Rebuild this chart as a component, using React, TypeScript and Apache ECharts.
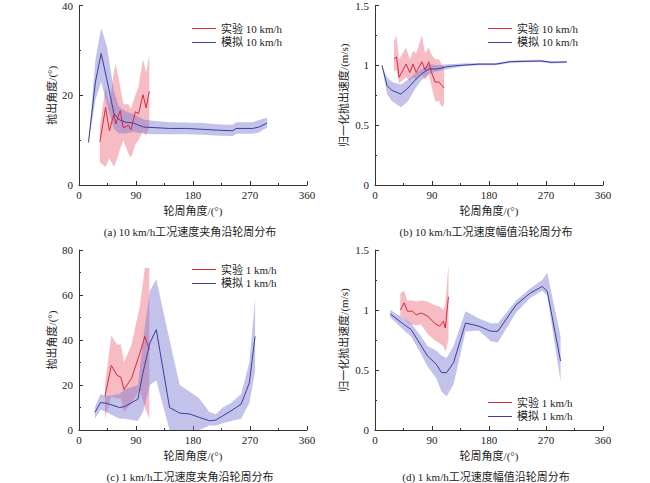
import * as echarts from "echarts";
import { useEffect, useRef } from "react";

// (a) 10 km/h angle
const aSimX = [15, 26, 35, 44, 55, 63, 73, 86, 102, 117, 143, 170, 196, 222, 243, 248, 274, 284, 297];
const aSimY = [9.5, 23, 29.3, 23.5, 16, 14.6, 14, 13.8, 12.9, 12.8, 12.6, 12.6, 12.4, 12.2, 12.1, 12.6, 12.6, 12.9, 13.8];
const aSimLo = [9.5, 19, 23, 18, 12.5, 11.5, 11.5, 11.8, 11.5, 11.3, 11.3, 11.3, 11.2, 11.0, 10.9, 11.4, 11.4, 11.7, 12.8];
const aSimHi = [9.5, 28, 35, 31, 21, 17.5, 16.5, 15.8, 14.6, 14.3, 14.0, 13.9, 13.8, 13.5, 13.4, 14.0, 14.0, 14.5, 15.0];
const aExpX = [33, 42, 48, 55, 58, 65, 70, 78, 82, 89, 94, 101, 106, 111];
const aExpY = [9.6, 17.3, 12.1, 15.8, 13.6, 16.6, 12.7, 13.3, 12.3, 16.3, 15.9, 20.1, 17.2, 20.9];
const aExpLo = [5, 4, 6, 4, 5, 8, 10, 7, 6, 9, 10, 12, 11, 13];
const aExpHi = [13, 22, 18, 25, 27, 22, 18, 18, 17, 20, 22, 28, 25, 29];

// (b) 10 km/h normalized speed
const bSimX = [11, 19, 27, 41, 52, 63, 74, 85, 98, 115, 136, 164, 191, 213, 235, 262, 278, 303];
const bSimY = [1.0, 0.83, 0.79, 0.76, 0.81, 0.875, 0.93, 0.97, 0.97, 0.99, 1.0, 1.01, 1.01, 1.03, 1.033, 1.036, 1.025, 1.028];
const bSimLo = [1.0, 0.76, 0.7, 0.65, 0.7, 0.8, 0.88, 0.93, 0.95, 0.97, 0.99, 1.0, 1.0, 1.02, 1.025, 1.028, 1.015, 1.02];
const bSimHi = [1.0, 0.9, 0.86, 0.84, 0.88, 0.93, 0.97, 1.01, 1.0, 1.01, 1.015, 1.02, 1.02, 1.04, 1.045, 1.046, 1.035, 1.037];
const bExpX = [30, 34, 38, 49, 55, 60, 65, 74, 79, 85, 88, 95, 101, 106, 109];
const bExpY = [1.056, 1.07, 0.9, 1.01, 0.94, 1.01, 0.94, 1.03, 0.96, 1.03, 0.96, 0.86, 0.86, 0.83, 0.81];
const bExpLo = [0.95, 0.96, 0.85, 0.9, 0.87, 0.9, 0.88, 0.92, 0.88, 0.92, 0.85, 0.7, 0.7, 0.65, 0.68];
const bExpHi = [1.2, 1.25, 1.05, 1.15, 1.05, 1.12, 1.1, 1.25, 1.1, 1.15, 1.1, 1.05, 1.05, 1.0, 1.0];

// (c) 1 km/h angle
const cSimX = [25, 34, 43, 64, 72, 93, 101, 112, 122, 143, 159, 175, 190, 206, 216, 227, 240, 256, 269, 278];
const cSimY = [7.8, 12.2, 11.9, 10, 10.4, 13.7, 25.4, 38.7, 44.6, 10, 7.5, 7.1, 5.6, 4.1, 4.4, 6.3, 8.5, 11.5, 21, 41.6];
const cSimLo = [5, 9, 8, 5, 5, 4, 8, 20, 22, 0, 0, 0, 0, 2, 2, 3, 4, 5, 12, 26];
const cSimHi = [10, 16, 15, 16, 18, 20, 40, 62, 67, 40, 20, 17, 14, 8, 7, 10, 12, 16, 30, 58];
const cExpX = [41, 51, 60, 66, 71, 83, 96, 104, 111];
const cExpY = [15, 28.7, 24.3, 23.5, 18, 23, 34, 41.6, 35.7];
const cExpLo = [5, 15, 14, 14, 8, 12, 18, 10, 5];
const cExpHi = [20, 42, 38, 38, 30, 38, 55, 72, 72];

// (d) 1 km/h normalized speed
const dSimX = [24, 46, 57, 70, 83, 97, 105, 113, 124, 143, 164, 183, 194, 223, 245, 264, 272, 293];
const dSimY = [0.967, 0.878, 0.837, 0.727, 0.616, 0.547, 0.478, 0.478, 0.561, 0.892, 0.865, 0.823, 0.823, 1.044, 1.14, 1.196, 1.155, 0.575];
const dSimLo = [0.94, 0.83, 0.78, 0.66, 0.53, 0.43, 0.32, 0.28, 0.38, 0.82, 0.83, 0.74, 0.73, 0.98, 1.1, 1.16, 1.12, 0.4];
const dSimHi = [1.0, 0.93, 0.89, 0.8, 0.7, 0.66, 0.62, 0.6, 0.7, 0.99, 0.93, 0.89, 0.89, 1.08, 1.18, 1.25, 1.31, 0.78];
const dExpX = [40, 46, 51, 59, 65, 73, 83, 94, 102, 108, 111, 116];
const dExpY = [1.0, 1.06, 0.99, 0.99, 0.96, 0.975, 0.95, 0.89, 0.865, 0.906, 0.85, 1.11];
const dExpLo = [0.95, 0.93, 0.9, 0.88, 0.87, 0.88, 0.8, 0.75, 0.72, 0.7, 0.65, 0.75];
const dExpHi = [1.14, 1.16, 1.08, 1.08, 1.07, 1.08, 1.07, 1.04, 1.03, 1.0, 1.05, 1.38];

const xTicks = [0, 90, 180, 270, 360];

const RED = "#d8283f";
const RED_BAND = "rgba(240,120,135,0.5)";
const BLUE = "#3b3f98";
const BLUE_BAND = "rgba(120,120,210,0.45)";
const FONT = "'Liberation Serif', 'Noto Sans CJK SC', serif";

const panels = [
  { left: 79, top: 5, yMax: 40, yInt: 20, yName: "抛出角度/(°)", speed: "10 km/h", caption: "(a) 10 km/h工况速度夹角沿轮周分布", legendTop: 18, sim: [aSimX, aSimY, aSimLo, aSimHi], exp: [aExpX, aExpY, aExpLo, aExpHi] },
  { left: 375, top: 5, yMax: 1.5, yInt: 0.5, yName: "归一化抛出速度/(m/s)", speed: "10 km/h", caption: "(b) 10 km/h工况速度幅值沿轮周分布", legendTop: 18, sim: [bSimX, bSimY, bSimLo, bSimHi], exp: [bExpX, bExpY, bExpLo, bExpHi] },
  { left: 79, top: 250, yMax: 80, yInt: 20, yName: "抛出角度/(°)", speed: "1 km/h", caption: "(c) 1 km/h工况速度夹角沿轮周分布", legendTop: 259, sim: [cSimX, cSimY, cSimLo, cSimHi], exp: [cExpX, cExpY, cExpLo, cExpHi] },
  { left: 375, top: 250, yMax: 1.5, yInt: 0.5, yName: "归一化抛出速度/(m/s)", speed: "1 km/h", caption: "(d) 1 km/h工况速度幅值沿轮周分布", legendTop: 392, sim: [dSimX, dSimY, dSimLo, dSimHi], exp: [dExpX, dExpY, dExpLo, dExpHi] },
];

const W = 228;
const H = 180;

function bandSeries(idx: number, xs: number[], lo: number[], hi: number[], color: string) {
  return {
    type: "custom",
    xAxisIndex: idx,
    yAxisIndex: idx,
    silent: true,
    z: 1,
    data: xs.map((x, i) => [x, lo[i], hi[i]]),
    renderItem: (params: any, api: any) => {
      if (params.dataIndex !== 0) return null;
      const top = xs.map((x, i) => api.coord([x, hi[i]]));
      const bot = xs.map((x, i) => api.coord([x, lo[i]])).reverse();
      return {
        type: "polygon",
        shape: { points: top.concat(bot) },
        style: { fill: color },
      };
    },
  };
}

export default function App() {
  const ref = useRef<HTMLDivElement>(null);

  useEffect(() => {
    if (!ref.current) return;
    document.body.style.margin = "0";
    const chart = echarts.init(ref.current, null, { renderer: "svg" });

    const axisLine = { show: true, lineStyle: { color: "#333", width: 1 } };
    const series: any[] = [];
    panels.forEach((p, i) => {
      series.push(bandSeries(i, p.exp[0], p.exp[2], p.exp[3], RED_BAND));
      series.push(bandSeries(i, p.sim[0], p.sim[2], p.sim[3], BLUE_BAND));
      series.push({
        type: "line", name: "实验 " + p.speed, xAxisIndex: i, yAxisIndex: i, showSymbol: false, z: 3,
        lineStyle: { color: RED, width: 1 }, itemStyle: { color: RED },
        data: p.exp[0].map((x, k) => [x, p.exp[1][k]]),
      });
      series.push({
        type: "line", name: "模拟 " + p.speed, xAxisIndex: i, yAxisIndex: i, showSymbol: false, z: 3,
        lineStyle: { color: BLUE, width: 1 }, itemStyle: { color: BLUE },
        data: p.sim[0].map((x, k) => [x, p.sim[1][k]]),
      });
    });

    chart.setOption({
      animation: false,
      textStyle: { fontFamily: FONT, color: "#222" },
      grid: panels.map((p) => ({ left: p.left, top: p.top, width: W, height: H })),
      xAxis: panels.map((p, i) => ({
        type: "value", gridIndex: i, min: xTicks[0], max: xTicks[xTicks.length - 1], interval: 90,
        name: "轮周角度/(°)", nameLocation: "middle", nameGap: 20,
        nameTextStyle: { fontFamily: FONT, fontSize: 11, color: "#222" },
        axisLine, axisTick: { inside: true, length: 4, lineStyle: { color: "#333" } },
        minorTick: { show: true, splitNumber: 2, length: 2, lineStyle: { color: "#333" } },
        axisLabel: { fontFamily: FONT, fontSize: 11, color: "#222", margin: 4 },
        splitLine: { show: false },
      })),
      yAxis: panels.map((p, i) => ({
        type: "value", gridIndex: i, min: 0, max: p.yMax, interval: p.yInt,
        name: p.yName, nameLocation: "middle", nameGap: p.yMax === 1.5 ? 26 : 22,
        nameTextStyle: { fontFamily: FONT, fontSize: 11, color: "#222" },
        axisLine, axisTick: { inside: true, length: 4, lineStyle: { color: "#333" } },
        minorTick: { show: true, splitNumber: 2, length: 2, lineStyle: { color: "#333" } },
        axisLabel: { fontFamily: FONT, fontSize: 11, color: "#222", margin: 6 },
        splitLine: { show: false },
      })),
      legend: panels.map((p) => ({
        left: p.left + 108, top: p.legendTop, orient: "vertical", itemGap: 3,
        itemWidth: 24, itemHeight: 1, icon: "rect",
        textStyle: { fontFamily: FONT, fontSize: 11, color: "#222" },
        data: ["实验 " + p.speed, "模拟 " + p.speed],
      })),
      graphic: panels.map((p) => ({
        type: "text", x: p.left + W / 2 - 3, y: p.top + H + 47,
        style: { text: p.caption, font: "11px " + FONT, fill: "#222", textAlign: "center", textVerticalAlign: "middle" },
      })),
      series,
    });

    return () => chart.dispose();
  }, []);

  return <div ref={ref} style={{ width: 650, height: 483 }} />;
}
